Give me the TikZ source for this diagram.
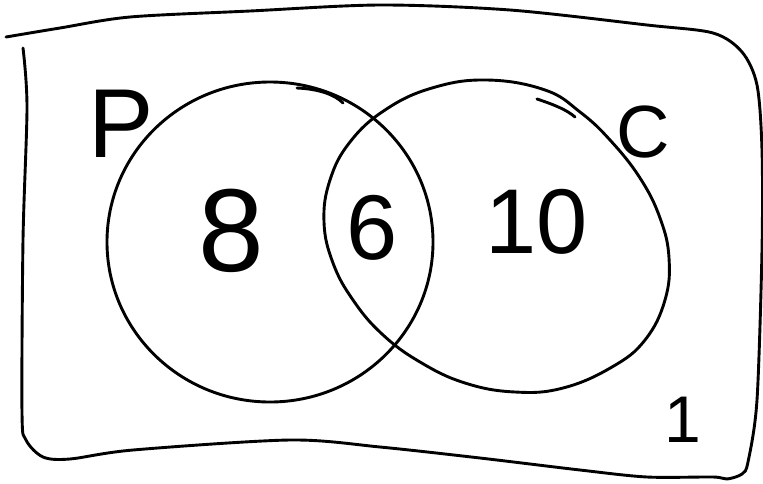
\documentclass[tikz,border=0pt]{standalone}
\usepackage{fontspec}
\setmainfont{Liberation Sans}
\begin{document}
\begin{tikzpicture}[x=1pt,y=-1pt,
  stroke/.style={line width=2.9pt,line cap=round,line join=round,black},
  lbl/.style={inner sep=0pt,anchor=center}]
\useasboundingbox (0,0) rectangle (763,483);
% universal set (hand drawn rounded rectangle)
\draw[stroke] plot[smooth,tension=0.5] coordinates {
  (6,37) (60,28) (130,17) (250,11) (380,5) (510,10) (647,25) (713,33)
  (742,52) (757,85) (762,150) (762,250) (757,400) (748,462) (742,474) (727,479)
  (713,477) (647,477) (580,470) (480,458) (380,447) (290,440) (133,450) (70,459)
  (43,457) (26,440) (22,413) (23,240) (27,107) (23,48)};
% set P
\draw[stroke] (270,242) ellipse [x radius=163pt, y radius=160pt];
\draw[stroke] (297,88) .. controls (320,89) and (335,95) .. (343,103);
% set C
\draw[stroke] plot[smooth cycle,tension=0.7] coordinates {
  (487,80) (545,90) (580,112) (610,140) (640,178) (660,218) (669,258)
  (665,300) (645,340) (612,367) (563,388) (515,392) (465,383) (420,362)
  (382,334) (353,300) (333,263) (324,222) (330,180) (350,142) (385,110) (432,88)};
\draw[stroke] (537,99) .. controls (555,105) and (567,110) .. (575,117);
% labels
\node[lbl,font=\fontsize{98}{98}\selectfont] (lp) at (121,124) {P};
\node[lbl,font=\fontsize{74}{74}\selectfont] (lc) at (643,132) {C};
\node[lbl,font=\fontsize{118}{118}\selectfont] (n8) at (231,231) {8};
\node[lbl,font=\fontsize{92}{92}\selectfont] (n6) at (372,228) {6};
\node[lbl,font=\fontsize{92}{92}\selectfont] (n10) at (537,222) {10};
\node[lbl,font=\fontsize{66}{66}\selectfont] (n1) at (683,420) {1};
\end{tikzpicture}
\end{document}
